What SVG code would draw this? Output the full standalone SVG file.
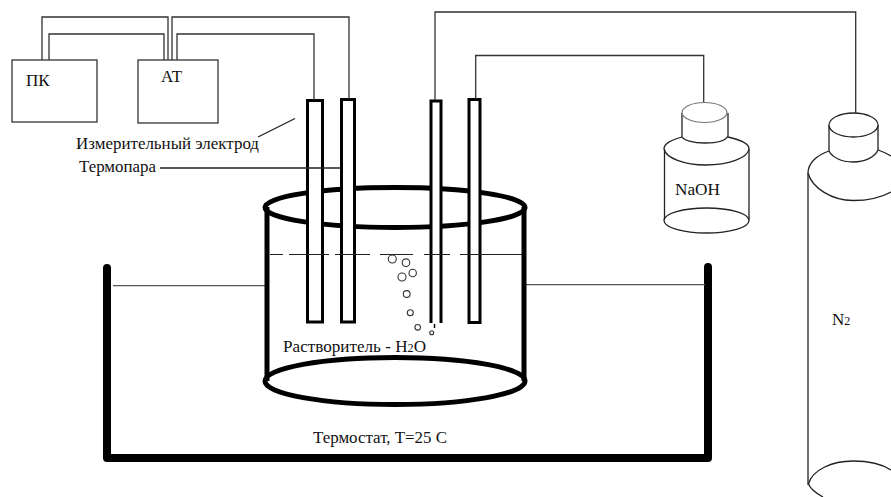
<svg xmlns="http://www.w3.org/2000/svg" width="891" height="497" viewBox="0 0 891 497">
<style>
text{font-family:"Liberation Serif","Times New Roman",serif;font-size:17px;fill:#111}
.box{fill:#fff;stroke:#333;stroke-width:1.3}
.wire{fill:none;stroke:#333;stroke-width:1.3}
.thin{fill:none;stroke:#555;stroke-width:1.2}
.ln{fill:none;stroke:#222;stroke-width:1.3}
.bot{fill:#fff;stroke:#222;stroke-width:1.3}
.tube{fill:#fff;stroke:#000;stroke-width:3}
.heavy{fill:none;stroke:#000;stroke-width:5}
.bub{fill:#fff;stroke:#333;stroke-width:1.1}
</style>
<rect width="891" height="497" fill="#fff"/>
<g id="thermostat">
<path d="M107 268V458H708V267" fill="none" stroke="#000" stroke-width="8" stroke-linejoin="round" stroke-linecap="round"/>
<path class="thin" d="M113 285.7H267M526 284.7H705"/>
<text x="313" y="443" textLength="134" lengthAdjust="spacingAndGlyphs">Термостат, Т=25 С</text>
</g>
<g id="vessel">
<ellipse class="heavy" cx="395" cy="207.500" rx="130" ry="20"/>
<path class="heavy" d="M267 207V381M524 207V381"/>
<ellipse class="heavy" cx="395" cy="381" rx="130" ry="23.500"/>
<text x="283" y="352" textLength="143" lengthAdjust="spacingAndGlyphs">Растворитель - H<tspan font-size="12">2</tspan>O</text>
</g>
<g id="electrode-measuring">
<rect class="tube" x="307.500" y="100.500" width="15" height="221.500"/>
</g>
<g id="thermocouple">
<rect class="tube" x="341.500" y="99.500" width="13" height="222.500"/>
</g>
<g id="gas-tube">
<path d="M431 323V101H441V323" fill="#fff" stroke="#000" stroke-width="3"/>
<path d="M434.500 324V328" stroke="#000" stroke-width="1.500"/>
</g>
<g id="tube-4">
<rect class="tube" x="469" y="99.500" width="11" height="223"/>
</g>
<g id="level">
<path d="M270 254.500H283M289 254.500H329M335 254.500H370M380 254.500H413M424 254.500H450M460 254.500H522" stroke="#222" stroke-width="1.200" fill="none"/>
</g>
<g id="bubbles">
<circle class="bub" cx="392.300" cy="259" r="4"/>
<circle class="bub" cx="406" cy="262.700" r="3.800"/>
<circle class="bub" cx="412.700" cy="273" r="3.700"/>
<circle class="bub" cx="402" cy="277" r="4"/>
<circle class="bub" cx="406.700" cy="294" r="3.400"/>
<circle class="bub" cx="410.300" cy="312.700" r="3"/>
<circle class="bub" cx="417.700" cy="327.300" r="2.800"/>
<circle class="bub" cx="431.700" cy="332.700" r="2"/>
</g>
<g id="pc">
<rect class="box" x="12" y="60" width="85" height="62"/>
<text x="26" y="86">ПК</text>
</g>
<g id="at">
<rect class="box" x="138" y="60" width="80" height="63"/>
<text x="161" y="82">АТ</text>
</g>
<g id="naoh-bottle">
<path class="ln" d="M664 149C664 143 672 140 682 137M728 137C740 140 749 143 749 149"/>
<path class="ln" d="M664 149C666 158 684 165 706 165C728 165 748 158 749 149"/>
<path class="ln" d="M664.500 149V220M749 149V220"/>
<ellipse class="bot" cx="706.500" cy="220.500" rx="42.500" ry="12.500"/>
<path class="ln" d="M682 113V137C684 140 692 143 705 143C718 143 726 140 728 136V113"/>
<ellipse cx="704.500" cy="112.500" rx="22.500" ry="10" fill="#fff" stroke="#777" stroke-width="1.200"/>
<text x="675" y="194.500" textLength="45" lengthAdjust="spacingAndGlyphs">NaOH</text>
</g>
<g id="n2-cylinder">
<path class="ln" d="M829 151C817 155 808 163 808 173V485"/>
<path class="ln" d="M878 150C884 152 888 154 891 156"/>
<path class="ln" d="M808 173C812 188 832 200.500 853 200.500C868 200.500 882 197 891 192"/>
<path class="ln" d="M808.500 484C812 470 832 461 853 461C868 461 882 464 891 470"/>
<path class="ln" d="M808.500 484C810 488 814 492 823 497"/>
<path class="ln" d="M829 125V151C832 157 841 162 853 162C865 162 875 157 878 150V125"/>
<ellipse class="bot" cx="853.500" cy="125" rx="24.500" ry="12"/>
<text x="832" y="325">N<tspan font-size="12">2</tspan></text>
</g>
<g id="connectors">
<path class="wire" d="M42 60V17H168V60M49 60V34H164V60"/>
<path class="wire" d="M172 60V17H349V99M177 60V34H314V100"/>
<path class="wire" d="M435 100V12H855.700V113M475.700 99V55.500H703.700V102"/>
<path class="ln" d="M258 137L295 118.500"/>
<path class="ln" d="M160 168H340"/>
</g>
<g id="labels">
<text x="76" y="149" textLength="183" lengthAdjust="spacingAndGlyphs">Измерительный электрод</text>
<text x="79" y="172" textLength="77" lengthAdjust="spacingAndGlyphs">Термопара</text>
</g>
</svg>
